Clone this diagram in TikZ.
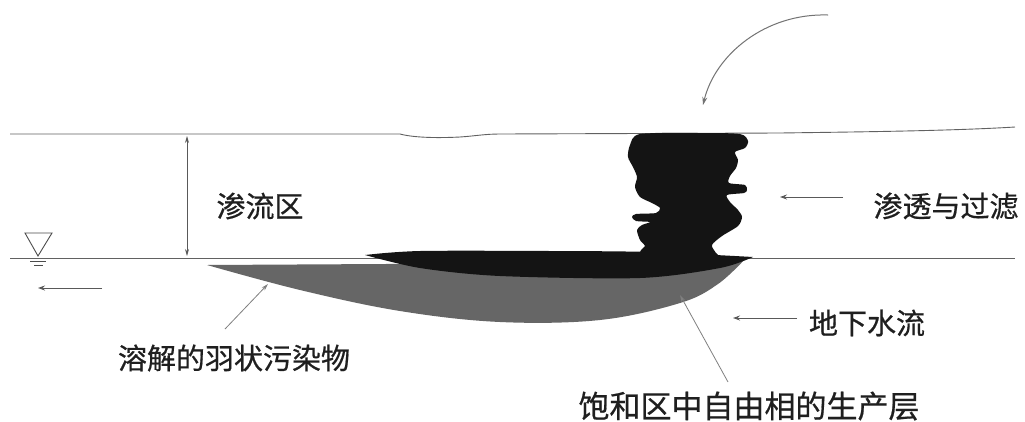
\documentclass[tikz,border=0pt]{standalone}
\usepackage{fontspec}
\newfontfamily\cjk[FakeBold=0.6]{Noto Sans CJK SC}
\usetikzlibrary{arrows.meta}
\tikzset{
  groundline/.style={draw=black!62, line width=0.9pt},
  flowarrow/.style={draw=black!65, line width=0.9pt, -{Stealth[length=7pt,width=5pt]}},
  pointer/.style={draw=black!50, line width=0.8pt, -{Stealth[length=7pt,width=4pt]}},
  lbl/.style={font=\cjk\fontsize{29}{31}\selectfont, text=black!88, inner sep=0pt},
}
\begin{document}
\begin{tikzpicture}[x=1pt,y=-1pt]
\useasboundingbox (0,0) rectangle (1025,421);
\fill[white] (0,0) rectangle (1025,421);

% ground surface and water table
\draw[groundline] (10,134) -- (400,134) .. controls (415,138) and (440,138) .. (460,137)
  .. controls (475,136) and (485,134) .. (500,134) -- (780,133)
  .. controls (850,132) and (950,131) .. (1015,127);
\draw[groundline] (10,258) -- (1015,258);

% dissolved plume (grey)
\fill[black!60] plot[smooth, tension=0.6] coordinates {(207,265) (300,290) (400,311) (500,322) (600,320) (680,303) (718,284) (746,258)}
  -- (740,262) -- (207,265) -- cycle;

% free phase lens (black)
\fill[black!92] plot[smooth, tension=0.5] coordinates {(365,255) (420,251) (550,251) (650,252) (753,257)}
  -- plot[smooth, tension=0.5] coordinates {(753,257) (720,268) (640,278) (500,276) (420,268) (365,255)} -- cycle;

% infiltrating column (black)
\fill[black!92] plot[smooth cycle, tension=0.45] coordinates {
  (640,134) (700,133) (740,134) (748,141) (745,148) (735,152) (738,160) (736,168)
  (730,176) (729,183) (745,185) (747,190) (744,193) (727,195) (730,202) (738,210)
  (742,217) (738,226) (722,236) (712,245) (716,253) (722,262) (680,266) (640,262)
  (641,250) (645,246) (640,240) (637,230) (642,225) (650,222) (636,221) (632,217)
  (636,214) (656,213) (660,208) (652,203) (640,197) (635,187) (637,177) (633,167)
  (628,157) (630,145)};

% vertical extent arrow of vadose zone
\coordinate (vt) at (187,136);
\coordinate (vb) at (187,256);
\draw[draw=black!65, line width=0.8pt, {Stealth[length=7pt,width=4pt]}-{Stealth[length=7pt,width=4pt]}] (vt) -- (vb);

% water table symbol
\coordinate (wa) at (25,233);
\coordinate (wb) at (52,233);
\coordinate (wc) at (38,256);
\draw[draw=black!70, line width=0.9pt] (wa) -- (wb) -- (wc) -- cycle;
\coordinate (w1a) at (30,261); \coordinate (w1b) at (46,261);
\coordinate (w2a) at (34,265); \coordinate (w2b) at (43,265);
\draw[draw=black!70, line width=0.8pt] (w1a) -- (w1b);
\draw[draw=black!70, line width=0.8pt] (w2a) -- (w2b);

% flow arrows
\coordinate (la1) at (102,288); \coordinate (la2) at (38,288);
\draw[flowarrow] (la1) -- (la2);

\coordinate (rs1) at (843,197); \coordinate (rs2) at (780,197);
\draw[flowarrow] (rs1) -- (rs2);

\coordinate (gw1) at (797,318); \coordinate (gw2) at (733,318);
\draw[flowarrow] (gw1) -- (gw2);

% rain / infiltration curved arrow
\coordinate (ca1) at (828,15); \coordinate (ca2) at (703,105);
\draw[draw=black!55, line width=1pt, -{Stealth[length=8pt,width=5pt]}] (ca1) .. controls (765,13) and (715,55) .. (ca2);

% labels
\node[lbl] (vz) at (260,206) {渗流区};
\node[lbl] (inf) at (946,206) {渗透与过滤};
\node[lbl] (gw) at (867,323) {地下水流};
\node[lbl] (plume) at (234,358) {溶解的羽状污染物};
\node[lbl, font=\cjk\fontsize{31}{33}\selectfont] (lens) at (749,406) {饱和区中自由相的生产层};

% pointers
\coordinate (p1s) at (225,329); \coordinate (p1e) at (268,284);
\draw[pointer] (p1s) -- (p1e);
\coordinate (p2s) at (728,382); \coordinate (p2e) at (680,295);
\draw[pointer] (p2s) -- (p2e);
\end{tikzpicture}
\end{document}
